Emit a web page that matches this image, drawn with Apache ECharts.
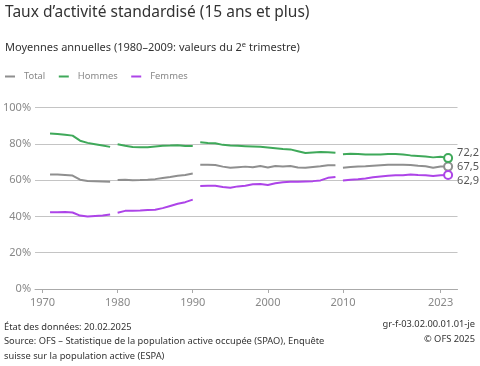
<!DOCTYPE html>
<html><head><meta charset="utf-8">
<script src="https://cdn.jsdelivr.net/npm/echarts@6/dist/echarts.min.js"></script>
<style>html,body{margin:0;padding:0;background:#fff}#c{width:480px;height:366px}</style>
</head><body><div id="c"></div>
<script>
const years = [];
for (let y = 1971; y <= 2024; y++) years.push(y);
// segment breaks: line is interrupted after these years
const breaksAfter = [1979, 1990, 2009];
const total = [63.2,63.1,62.9,62.6,60.3,59.6,59.5,59.3,59.1,
  60.1,60.3,60.0,60.1,60.3,60.6,61.2,61.8,62.5,62.9,63.7,
  68.6,68.5,68.4,67.5,66.9,67.2,67.5,67.1,67.8,67.0,67.8,67.6,67.8,67.0,66.9,67.3,67.7,68.2,68.3,
  66.9,67.3,67.5,67.7,68.0,68.3,68.6,68.6,68.6,68.4,68.0,67.7,66.9,67.6,67.5];
const hommes = [85.8,85.5,85.1,84.6,81.8,80.6,79.9,79.2,78.4,
  79.8,79.0,78.3,78.2,78.2,78.6,79.0,79.1,79.3,78.9,78.9,
  80.9,80.5,80.4,79.5,79.2,79.0,78.8,78.6,78.4,78.0,77.6,77.2,77.0,76.0,75.0,75.3,75.6,75.4,75.1,
  74.3,74.6,74.4,74.2,74.2,74.2,74.4,74.4,74.2,73.7,73.4,73.1,72.6,72.9,72.2];
const femmes = [42.3,42.4,42.5,42.2,40.5,40.0,40.3,40.6,41.1,
  42.1,43.1,43.2,43.3,43.6,43.7,44.6,45.8,47.0,47.9,49.3,
  56.8,57.0,56.9,56.3,55.8,56.6,57.0,57.8,57.9,57.4,58.3,58.9,59.1,59.1,59.3,59.5,59.9,61.3,61.8,
  59.9,60.3,60.6,61.0,61.6,62.1,62.5,62.7,62.8,63.1,62.9,62.8,62.3,62.7,62.9];
const xTicks = [1970, 1980, 1990, 2000, 2010, 2023];
const seriesDefs = [
  {name: 'Total', values: total, color: '#8f8f8f', labelOffset: [0, 0]},
  {name: 'Hommes', values: hommes, color: '#3fa95a', labelOffset: [0, -5]},
  {name: 'Femmes', values: femmes, color: '#ad44e8', labelOffset: [0, 6]}
];

function segments(values) {
  const segs = [];
  let cur = [];
  years.forEach((y, i) => {
    cur.push([y, values[i]]);
    if (breaksAfter.includes(y)) { segs.push(cur); cur = []; }
  });
  if (cur.length) segs.push(cur);
  return segs;
}
const fmt = v => v.toFixed(1).replace('.', ',');
const series = [];
seriesDefs.forEach(d => {
  const segs = segments(d.values);
  segs.forEach((seg, si) => {
    const last = si === segs.length - 1;
    const data = seg.map((p, pi) => {
      if (last && pi === seg.length - 1) {
        return {value: p, symbol: 'circle', symbolSize: 8,
          itemStyle: {color: '#fff', borderColor: d.color, borderWidth: 2},
          label: {show: true, position: 'right', distance: 4, offset: d.labelOffset,
            formatter: o => fmt(o.value[1]), color: '#555', fontSize: 11, fontFamily: 'Noto Sans'}};
      }
      return p;
    });
    series.push({name: d.name, type: 'line', data: data, showSymbol: true, symbol: 'none',
      lineStyle: {color: d.color, width: 2}, itemStyle: {color: d.color},
      animation: false, z: 3});
  });
});

const footStyle = {fontSize: 9.3, lineHeight: 14.5, fontWeight: 'normal', color: '#333', fontFamily: 'Noto Sans'};
const chart = echarts.init(document.getElementById('c'), null, {renderer: 'canvas'});
chart.setOption({
  backgroundColor: '#fff',
  textStyle: {fontFamily: 'Noto Sans'},
  title: [
    {text: 'Taux d’activité standardisé (15 ans et plus)', left: 5, top: 5, padding: 0,
      textStyle: {fontSize: 15.5, fontWeight: 'normal', color: '#333', fontFamily: 'Noto Sans'}},
    {text: 'Moyennes annuelles (1980–2009: valeurs du 2{sup|e} trimestre)', left: 5, top: 41, padding: 0,
      textStyle: {fontSize: 11, fontWeight: 'normal', color: '#333', fontFamily: 'Noto Sans',
        rich: {sup: {fontSize: 7.5, color: '#333', fontFamily: 'Noto Sans', verticalAlign: 'top', padding: [0, 0, 6, 0]}}}},
    {text: 'État des données: 20.02.2025\nSource: OFS – Statistique de la population active occupée (SPAO), Enquête\nsuisse sur la population active (ESPA)',
      left: 4, top: 320, padding: 0, textStyle: footStyle}
  ],
  graphic: [
    {type: 'text', right: 5, top: 320, style: {text: 'gr-f-03.02.00.01.01-je', fill: '#333', font: '9.3px "Noto Sans"'}},
    {type: 'text', right: 5, top: 334.5, style: {text: '© OFS 2025', fill: '#333', font: '9.3px "Noto Sans"'}}
  ],
  legend: {
    data: seriesDefs.map(d => d.name), left: 0, top: 67, icon: 'rect', itemWidth: 10, itemHeight: 2,
    itemGap: 13.5, textStyle: {color: '#888', fontSize: 9.4, fontFamily: 'Noto Sans', padding: [0, 0, 0, 4]}
  },
  grid: {left: 32.5, width: 425, top: 107.7, height: 181.3, containLabel: false},
  xAxis: {
    type: 'value', min: 1969, max: 2025.25,
    axisLine: {show: true, lineStyle: {color: '#aaa', width: 1}},
    axisTick: {show: true, customValues: xTicks, length: 4, lineStyle: {color: '#aaa'}},
    axisLabel: {customValues: xTicks, color: '#888', fontSize: 11, margin: 8, fontFamily: 'Noto Sans', formatter: v => String(v)},
    splitLine: {show: false}
  },
  yAxis: {
    type: 'value', min: 0, max: 100, interval: 20,
    axisLine: {show: false}, axisTick: {show: false},
    axisLabel: {color: '#888', fontSize: 11, margin: 4, fontFamily: 'Noto Sans', formatter: v => v + '%'},
    splitLine: {lineStyle: {color: '#c4c4c4', width: 1.2}}
  },
  series: series
});
</script></body></html>
